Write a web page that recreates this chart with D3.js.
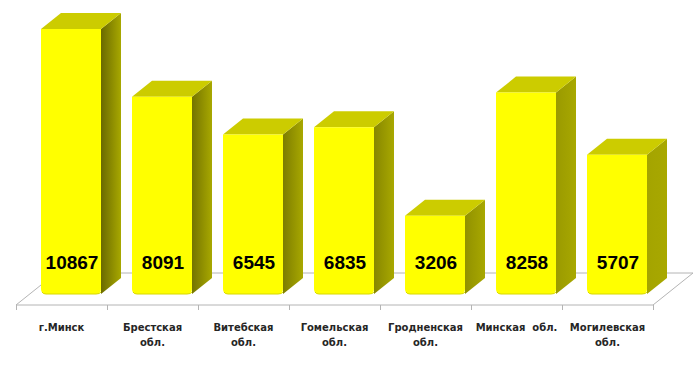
<!DOCTYPE html>
<html><head><meta charset="utf-8">
<script src="https://cdn.jsdelivr.net/npm/d3@7"></script>
<style>html,body{margin:0;padding:0;background:#fff}svg{display:block}</style>
</head><body>
<svg id="c" width="700" height="365"></svg>
<script>
const categories = [["г.Минск"], ["Брестская", "обл."], ["Витебская", "обл."], ["Гомельская", "обл."], ["Гродненская", "обл."], ["Минская  обл."], ["Могилевская", "обл."]];
const values = [10867, 8091, 6545, 6835, 3206, 8258, 5707];
const keys = categories.map((c, i) => "c" + i);

const svg = d3.select("#c");
const floorFront = 305, floorDX = 40, floorDY = -32;
const barDX = 20, barDY = -16;
const base = 294;

const x = d3.scaleBand().domain(keys).range([16, 653]);
const y = d3.scaleLinear().domain([0, 12000]).range([base, base - 12000 * 265 / 10867]);

// floor
const x0 = x.range()[0], x1 = x.range()[1];
svg.append("path")
  .attr("d", `M${x0},${floorFront}L${x1},${floorFront}L${x1 + floorDX},${floorFront + floorDY}L${x0 + floorDX},${floorFront + floorDY}Z`)
  .attr("fill", "#fff").attr("stroke", "#b4b4b4").attr("stroke-width", 1);

// ticks
const tickXs = keys.map(k => x(k)).concat([x1]);
svg.selectAll("line.tick").data(tickXs).enter().append("line")
  .attr("x1", d => Math.round(d) + 0.5).attr("x2", d => Math.round(d) + 0.5)
  .attr("y1", floorFront).attr("y2", floorFront + 5)
  .attr("stroke", "#b4b4b4");

// gradients for side faces
const defs = svg.append("defs");
const darkScale = d3.scaleLinear().domain([0, 6]).range(["#6a6a00", "#a4a400"]);
values.forEach((v, i) => {
  const g = defs.append("linearGradient").attr("id", "side" + i)
    .attr("x1", "0").attr("x2", "1").attr("y1", "0").attr("y2", "0");
  g.append("stop").attr("offset", "0").attr("stop-color", darkScale(i));
  g.append("stop").attr("offset", "1").attr("stop-color", "#a8a800");
});

const bw = 60;
const bars = svg.selectAll("g.bar").data(values).enter().append("g");
bars.each(function (v, i) {
  const g = d3.select(this);
  const bx = Math.round(x(keys[i]) + x.bandwidth() * 0.275);
  const top = y(v);
  const r = 5;
  g.append("path")
    .attr("d", `M${bx + bw},${top}L${bx + bw + barDX},${top + barDY}L${bx + bw + barDX},${base + barDY}L${bx + bw},${base}Z`)
    .attr("fill", `url(#side${i})`);
  g.append("path")
    .attr("d", `M${bx},${top}L${bx + barDX},${top + barDY}L${bx + bw + barDX},${top + barDY}L${bx + bw},${top}Z`)
    .attr("fill", "#cccc00");
  g.append("path")
    .attr("d", `M${bx},${top}L${bx + bw},${top}L${bx + bw},${base - r}Q${bx + bw},${base} ${bx + bw - r},${base}L${bx + r},${base}Q${bx},${base} ${bx},${base - r}Z`)
    .attr("fill", "#ffff00");
  g.append("path")
    .attr("d", `M${bx + 1},${base - 2}Q${bx + 2},${base} ${bx + r},${base}L${bx + bw - r},${base}Q${bx + bw - 1},${base} ${bx + bw},${base - 2}`)
    .attr("fill", "none").attr("stroke", "#d8d800").attr("stroke-width", 1);
  g.append("text")
    .attr("x", bx + bw / 2 + 1).attr("y", 269)
    .attr("text-anchor", "middle")
    .attr("font-family", "Liberation Sans, Arial, sans-serif")
    .attr("font-weight", "bold").attr("font-size", "19px")
    .attr("fill", "#000")
    .text(v);
});

// category labels
categories.forEach((lines, i) => {
  const cx = x(keys[i]) + x.bandwidth() / 2;
  const t = svg.append("text")
    .attr("text-anchor", "middle")
    .attr("font-family", "DejaVu Sans, Verdana, sans-serif")
    .attr("font-weight", "bold").attr("font-size", "10px")
    .attr("fill", "#262626");
  lines.forEach((ln, j) => {
    t.append("tspan").attr("x", cx).attr("y", 331 + j * 15).attr("xml:space", "preserve").text(ln);
  });
});
</script>
</body></html>
